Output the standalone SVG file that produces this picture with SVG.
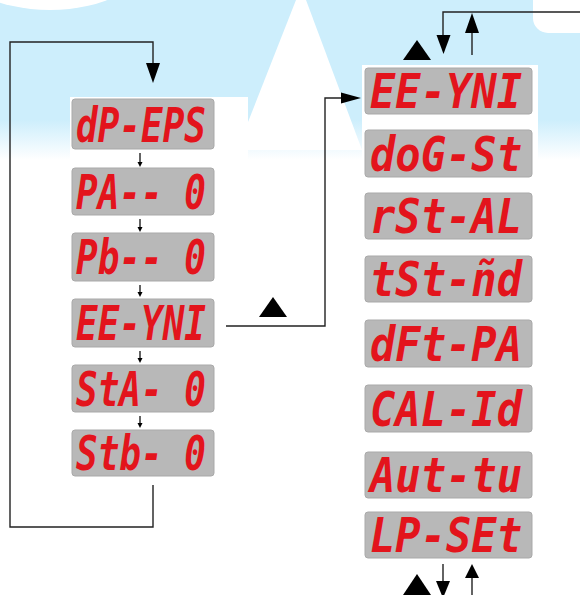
<svg xmlns="http://www.w3.org/2000/svg" width="580" height="595" viewBox="0 0 580 595">
<style>
.box{fill:#b8b8b8;stroke:#a9a9a9;stroke-width:1}
.seg{font-family:'DejaVu Sans Mono','Liberation Mono',monospace;font-weight:bold;font-style:oblique;font-size:48px;fill:#e3141c}
.ln{fill:none;stroke:#222;stroke-width:1.4}
.ah{fill:#000}
</style>
<defs>
<linearGradient id="bg" x1="0" y1="0" x2="0" y2="160" gradientUnits="userSpaceOnUse">
<stop offset="0" stop-color="#cdeefc"/>
<stop offset="0.75" stop-color="#cdeefc"/>
<stop offset="1" stop-color="#ffffff"/>
</linearGradient>
</defs>
<rect width="580" height="595" fill="#fff"/>
<rect width="580" height="160" fill="url(#bg)"/>
<ellipse cx="50" cy="-45" rx="100" ry="55" fill="#fff"/>
<polygon points="296,0 306,0 362,150 237,150" fill="#fff"/>
<rect x="533" y="-20" width="80" height="53" rx="15" fill="#fff"/>
<rect x="70" y="97" width="178" height="400" fill="#fff"/>
<rect x="362" y="65" width="176" height="500" fill="#fff"/>

<g id="connectors">
<path class="ln" d="M153,485 V527 H10 V42 H153 V64"/>
<polygon class="ah" points="146,63 160,63 153,83"/>
<path class="ln" d="M140,153 V162 M140,219 V227 M140,285 V292 M140,351 V358 M140,416 V423" stroke-width="1.2"/>
<polygon class="ah" points="137.5,162 142.5,162 140,167"/>
<polygon class="ah" points="137.5,227 142.5,227 140,232"/>
<polygon class="ah" points="137.5,292 142.5,292 140,297"/>
<polygon class="ah" points="137.5,358 142.5,358 140,363"/>
<polygon class="ah" points="137.5,423 142.5,423 140,428"/>
<path class="ln" d="M226,326 H325 V98 H342"/>
<polygon class="ah" points="341,92.5 341,103.5 361,98"/>
<polygon class="ah" points="273,297 259,317 287,317"/>
<path class="ln" d="M443,36 V12 H580"/>
<polygon class="ah" points="436.5,35 450.5,35 443.5,54"/>
<path class="ln" d="M472,55 V32"/>
<polygon class="ah" points="465,33 479,33 472,13"/>
<polygon class="ah" points="417,40 403,60 431,60"/>
<path class="ln" d="M443,564 V582"/>
<polygon class="ah" points="436,581 450,581 443,598"/>
<path class="ln" d="M472,595 V577"/>
<polygon class="ah" points="465,578 479,578 472,564"/>
<polygon class="ah" points="417,574 403,595 431,595"/>
</g>

<g id="n-dpeps"><rect class="box" x="72" y="99" width="142" height="50" rx="3"/><text class="seg" x="76" y="142" textLength="130" lengthAdjust="spacingAndGlyphs">dP-EPS</text></g>
<g id="n-pa"><rect class="box" x="72" y="168" width="142" height="47" rx="3"/><text class="seg" x="76" y="209" textLength="130" lengthAdjust="spacingAndGlyphs">PA-- 0</text></g>
<g id="n-pb"><rect class="box" x="72" y="233" width="142" height="48" rx="3"/><text class="seg" x="76" y="274" textLength="130" lengthAdjust="spacingAndGlyphs">Pb-- 0</text></g>
<g id="n-ee-left"><rect class="box" x="72" y="299" width="142" height="48" rx="3"/><text class="seg" x="76" y="340" textLength="130" lengthAdjust="spacingAndGlyphs">EE-YNI</text></g>
<g id="n-sta"><rect class="box" x="72" y="365" width="142" height="47" rx="3"/><text class="seg" x="76" y="406" textLength="130" lengthAdjust="spacingAndGlyphs">StA- 0</text></g>
<g id="n-stb"><rect class="box" x="72" y="430" width="142" height="46" rx="3"/><text class="seg" x="76" y="470" textLength="130" lengthAdjust="spacingAndGlyphs">Stb- 0</text></g>

<g id="n-ee-right"><rect class="box" x="365" y="68" width="167" height="46" rx="3"/><text class="seg" x="370" y="108" textLength="152" lengthAdjust="spacingAndGlyphs">EE-YNI</text></g>
<g id="n-dog"><rect class="box" x="365" y="130" width="167" height="47" rx="3"/><text class="seg" x="370" y="171" textLength="152" lengthAdjust="spacingAndGlyphs">doG-St</text></g>
<g id="n-rst"><rect class="box" x="365" y="193" width="167" height="46" rx="3"/><text class="seg" x="370" y="233" textLength="152" lengthAdjust="spacingAndGlyphs">rSt-AL</text></g>
<g id="n-tst"><rect class="box" x="365" y="256" width="167" height="46" rx="3"/><text class="seg" x="370" y="296" textLength="152" lengthAdjust="spacingAndGlyphs">tSt-ñd</text></g>
<g id="n-dft"><rect class="box" x="365" y="320" width="167" height="47" rx="3"/><text class="seg" x="370" y="361" textLength="152" lengthAdjust="spacingAndGlyphs">dFt-PA</text></g>
<g id="n-cal"><rect class="box" x="365" y="385" width="167" height="47" rx="3"/><text class="seg" x="370" y="426" textLength="152" lengthAdjust="spacingAndGlyphs">CAL-Id</text></g>
<g id="n-aut"><rect class="box" x="365" y="452" width="167" height="46" rx="3"/><text class="seg" x="370" y="492" textLength="152" lengthAdjust="spacingAndGlyphs">Aut-tu</text></g>
<g id="n-lp"><rect class="box" x="365" y="512" width="167" height="46" rx="3"/><text class="seg" x="370" y="552" textLength="152" lengthAdjust="spacingAndGlyphs">LP-SEt</text></g>
</svg>
